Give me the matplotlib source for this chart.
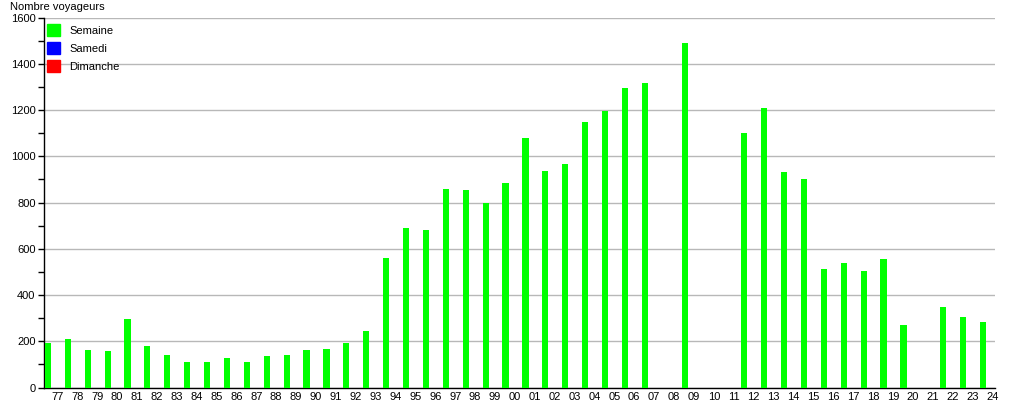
import numpy as np
import matplotlib
matplotlib.use("Agg")
import matplotlib.pyplot as plt
from matplotlib.patches import Patch

plt.rcParams['font.family'] = ['Liberation Sans', 'DejaVu Sans']

# years 1977 -> 2024, labels as two digits
annees = [f"{y % 100:02d}" for y in range(1977, 2025)]

# weekday travellers (nan = no data)
semaine = [194, 210, 162, 159, 297, 180, 140, 110, 110, 127,
           110, 136, 140, 162, 167, 192, 245, 559, 692, 680,
           857, 853, 800, 884, 1078, 935, 966, 1147, 1198, 1296,
           1318, np.nan, 1492, np.nan, np.nan, 1100, 1207, 934, 904, 515,
           537, 506, 554, 271, np.nan, 350, 307, 284]
samedi = [np.nan] * len(annees)
dimanche = [np.nan] * len(annees)

fig = plt.figure(figsize=(10.15, 4.0), dpi=100)
ax = fig.add_axes([0.0433, 0.031, 0.937, 0.925])

x = np.arange(len(annees))
ax.bar(x, semaine, width=0.31, color="#00ff00", zorder=3)
ax.bar(x + 0.31, samedi, width=0.31, color="#0000ff", zorder=3)
ax.bar(x + 0.62, dimanche, width=0.31, color="#ff0000", zorder=3)

ax.set_xlim(-0.2, 47.6)
ax.set_ylim(0, 1600)
ax.set_yticks(np.arange(0, 1601, 200))
ax.set_yticks(np.arange(100, 1600, 200), minor=True)
ax.yaxis.grid(True, color="#b8b8b8", linewidth=1, zorder=0)
ax.set_xticks(x + 0.47)
ax.set_xticklabels(annees)
ax.tick_params(axis="x", length=0, pad=3, labelsize=8)
ax.tick_params(axis="y", which="both", length=4, width=1, direction="out", labelsize=8, pad=2)

for s in ["top", "right"]:
    ax.spines[s].set_visible(False)
ax.spines["left"].set_linewidth(1)
ax.spines["bottom"].set_linewidth(1)

handles = [Patch(color="#00ff00", label="Semaine"),
           Patch(color="#0000ff", label="Samedi"),
           Patch(color="#ff0000", label="Dimanche")]
ax.legend(handles=handles, loc="upper left", bbox_to_anchor=(-0.004, 1.0),
          frameon=False, fontsize=8, handlelength=1.2, handleheight=1.25,
          handletextpad=0.8, labelspacing=0.55, borderaxespad=0.2)

fig.text(10 / 1015, 1 - 7 / 400, "Nombre voyageurs", fontsize=8, va="center", ha="left")

fig.savefig("out.png", dpi=100)
